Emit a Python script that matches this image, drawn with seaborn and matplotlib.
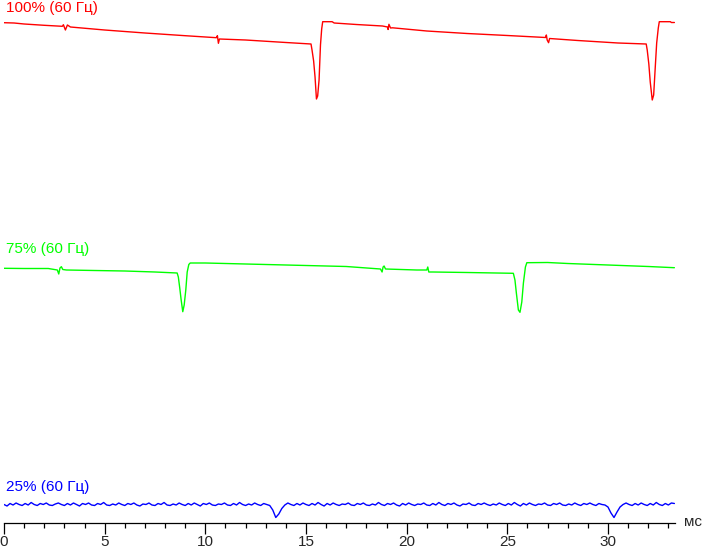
import numpy as np
import pandas as pd
import matplotlib
matplotlib.use("Agg")
import matplotlib.pyplot as plt
import seaborn as sns

# brightness traces, time in ms, height in arbitrary units above the time axis
red_t = [0, 0.5, 1.0, 2.0, 2.9, 2.95, 3.05, 3.15, 3.3, 5, 7, 9, 10.55, 10.6, 10.65, 10.7,
         12, 14, 15.25, 15.3, 15.38, 15.45, 15.52, 15.58, 15.65, 15.72, 15.78, 15.83,
         16.3, 16.4, 17.5, 18.8, 19.05, 19.08, 19.12, 19.2, 19.3, 21, 23, 25, 26.9, 26.94,
         26.98, 27.05, 27.1, 28.5, 30.5, 31.9, 31.95, 32.03, 32.1, 32.2, 32.27, 32.35,
         32.42, 32.5, 32.55, 33.1, 33.15, 33.3]
red_y = [500.3, 500, 499, 497.7, 496.7, 498.3, 493, 498, 496, 493, 490, 487.3, 485.3, 487.3,
         479.7, 484, 483, 480.5, 479, 473, 462, 446, 424, 427, 443, 478, 494, 501.3,
         501.3, 500, 498.5, 497, 496, 493.5, 498.7, 495, 495.2, 492, 489.5, 487.5, 485.5,
         488, 483, 480.3, 484.5, 482.5, 480, 479, 473, 459, 441, 423, 428, 456,
         480, 495, 501.3, 501.3, 500.5, 500.5]

green_t = [0, 1.0, 2.2, 2.65, 2.72, 2.78, 2.85, 2.92, 3.1, 4.5, 6, 7.5, 8.6, 8.66, 8.73,
           8.8, 8.88, 8.95, 9.03, 9.1, 9.18, 9.25, 10, 11, 13, 15, 17, 18.7, 18.78, 18.83,
           18.88, 18.95, 20.5, 21.0, 21.05, 21.1, 21.3, 23, 25.3, 25.38, 25.45, 25.55,
           25.63, 25.72, 25.8, 25.9, 25.97, 27, 28, 30, 32, 33.3]
green_y = [254.7, 254.5, 254.5, 253, 249, 255, 256.3, 253.5, 253, 252.5, 252, 251, 250, 246,
           235, 223, 211.3, 218, 233, 251, 258.5, 260, 260, 259.5, 258.5, 257.5, 256.5,
           254, 251, 256, 257, 254, 253, 253, 256, 251, 251, 250.5, 249.7, 243, 230, 213,
           210.7, 221, 240, 256, 260.3, 260.5, 259.5, 258, 256.5, 255.3]

blue_y = [18.5, 17.0, 19.5, 18.0, 20.0, 18.5, 17.5, 19.5, 18.0, 20.5, 18.5, 17.5, 19.5, 18.5, 20.0,
          18.0, 17.5, 19.0, 20.0, 18.5, 17.5, 19.5, 18.0, 20.0, 18.5, 17.0, 19.5, 18.5, 20.0, 18.0,
          17.5, 19.5, 18.5, 20.5, 18.0, 17.5, 19.0, 18.0, 20.0, 18.5, 17.5, 19.5, 18.5, 20.0, 18.0,
          17.0, 19.0, 18.5, 20.0, 18.0, 17.5, 19.5, 18.5, 20.5, 18.0, 17.5, 19.0, 18.0, 20.0, 18.5,
          17.5, 19.5, 18.0, 20.0, 18.5, 17.0, 19.5, 18.5, 20.0, 18.0, 17.5, 19.0, 18.5, 20.0, 18.0,
          17.5, 19.5, 18.0, 20.5, 18.5, 17.5, 19.0, 18.0, 20.0, 18.5, 17.5, 19.5, 18.5, 17.5, 13.0,
          5.5, 9.0, 14.5, 18.0, 20.0, 18.5, 17.5, 19.5, 18.0, 20.0, 18.5, 17.5, 19.5, 18.0, 20.5,
          18.5, 17.0, 19.5, 18.0, 20.0, 18.5, 17.5, 19.0, 18.5, 20.0, 18.0, 17.5, 19.5, 18.5, 20.0,
          18.0, 17.5, 19.0, 18.0, 20.5, 18.5, 17.5, 19.5, 18.5, 20.0, 18.0, 17.0, 19.5, 18.0, 20.0,
          18.5, 17.5, 19.0, 18.5, 20.0, 18.0, 17.5, 19.5, 18.0, 20.5, 18.5, 17.5, 19.5, 18.5, 20.0,
          18.0, 17.0, 19.0, 18.5, 20.0, 18.0, 17.5, 19.5, 18.5, 20.0, 18.5, 17.5, 19.0, 18.0, 20.0,
          18.5, 17.5, 19.5, 18.0, 20.5, 18.5, 17.0, 19.5, 18.0, 20.0, 18.5, 17.5, 19.0, 18.5, 20.0,
          18.0, 17.5, 19.5, 18.5, 20.0, 18.0, 17.5, 19.0, 18.0, 20.0, 18.5, 17.5, 19.5, 18.5, 20.0,
          18.5, 17.5, 19.5, 18.5, 18.0, 16.0, 10.0, 5.5, 11.0, 16.0, 18.5, 20.0, 18.5, 17.5, 19.5,
          18.0, 20.0, 18.5, 17.5, 19.5, 18.0, 20.5, 18.5, 17.5, 19.5, 18.0, 20.0, 19.5]
blue_t = np.linspace(0, 33.3, len(blue_y))  # sample times

labels = ["100% (60 Гц)", "75% (60 Гц)", "25% (60 Гц)"]
colors = ["#ff0000", "#00ff00", "#0000ff"]
label_y = [515, 274, 36]

sns.set_style("white")
plt.rcParams['font.family'] = ['Liberation Sans', 'DejaVu Sans']

fig = plt.figure(figsize=(7.03, 5.51), dpi=100)
ax = fig.add_axes([4/703, 28/551, 671/703, 523/551])

traces = [(red_t, red_y), (green_t, green_y), (blue_t, blue_y)]
for (t, y), c in zip(traces, colors):
    df = pd.DataFrame({'t': t, 'y': y})
    sns.lineplot(data=df, x='t', y='y', ax=ax, color=c, lw=1.0, estimator=None, sort=False)

for lab, c, yy in zip(labels, colors, label_y):
    ax.text(0.1, yy, lab, color=c, fontsize=11, ha='left', va='center')

ax.set_xlim(0, 33.33)
ax.set_ylim(0, 523)
ax.set_xlabel('')
ax.set_ylabel('')
ax.set_yticks([])
ax.set_xticks(range(0, 31, 5))
ax.set_xticks(range(0, 34), minor=True)
ax.tick_params(axis='x', which='major', length=7.9, width=0.9, pad=1, labelsize=11,
               direction='out', color='black', bottom=True)
ax.tick_params(axis='x', which='minor', length=3.6, width=0.9, direction='out',
               color='black', bottom=True)
for s in ['top', 'left', 'right']:
    ax.spines[s].set_visible(False)
ax.spines['bottom'].set_linewidth(0.9)
ax.spines['bottom'].set_color('black')

fig.text(684/703, (551-522)/551, 'мс', fontsize=11, ha='left', va='center')

plt.savefig('out.png', dpi=100)
